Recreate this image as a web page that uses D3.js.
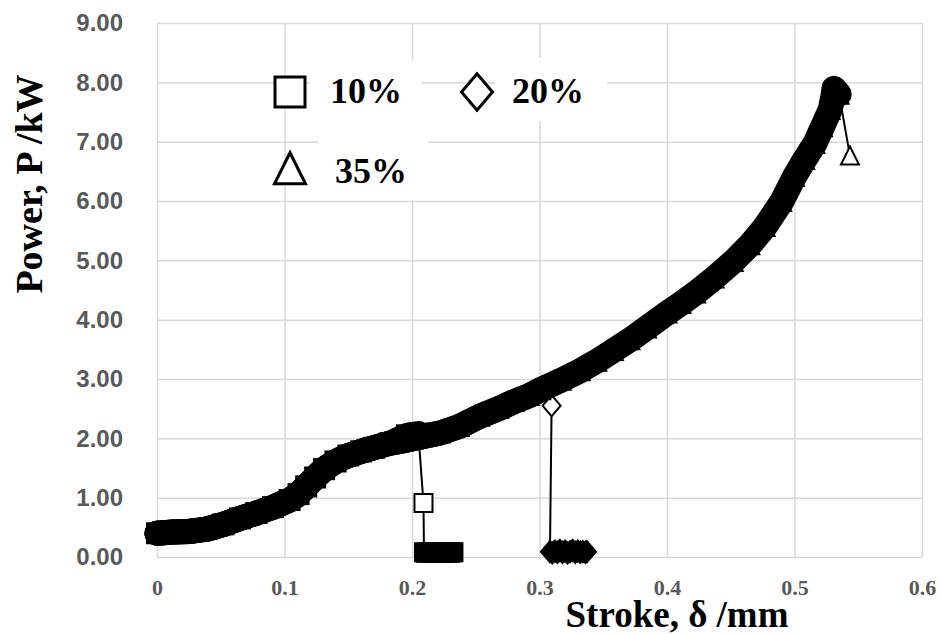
<!DOCTYPE html>
<meta charset="utf-8">
<script src="https://cdnjs.cloudflare.com/ajax/libs/d3/7.8.5/d3.min.js"></script>
<style>
  body { margin: 0; background: #fff; }
</style>
<div id="chart"></div>
<script>
// ---- data ----
// common loading curve (the thick band that all three runs follow)
const curveStroke = [0, 0.0125, 0.025, 0.039, 0.052, 0.065, 0.078, 0.091, 0.104, 0.111,
  0.117, 0.124, 0.131, 0.140, 0.150, 0.160, 0.170, 0.183, 0.196, 0.209, 0.222, 0.237,
  0.253, 0.268, 0.280, 0.292, 0.301, 0.317, 0.332, 0.345, 0.358, 0.371, 0.384, 0.400,
  0.411, 0.4225, 0.437, 0.452, 0.465, 0.477, 0.490, 0.500, 0.508, 0.516, 0.522, 0.528,
  0.530, 0.531, 0.535];
const curvePower = [0.40, 0.42, 0.43, 0.47, 0.55, 0.65, 0.74, 0.84, 0.96, 1.06,
  1.19, 1.34, 1.48, 1.61, 1.71, 1.78, 1.84, 1.92, 1.97, 2.03, 2.09, 2.20,
  2.37, 2.50, 2.62, 2.72, 2.82, 2.98, 3.14, 3.30, 3.48, 3.66, 3.86, 4.11,
  4.27, 4.45, 4.70, 4.98, 5.26, 5.57, 5.99, 6.41, 6.70, 6.97, 7.25, 7.54,
  7.75, 7.90, 7.80];

const seriesNames = ["10%", "20%", "35%"];
// last curve point each run keeps before failure
const curveEnd = [0.183, 0.301, 0.535];

// extra points at the end of the band
const endStroke10 = [0.196, 0.205];
const endPower10 = [2.05, 2.08];
const endStroke20 = [0.305];
const endPower20 = [2.86];
const endStroke35 = [];
const endPower35 = [];

// points after the drop
const tailStroke10 = [0.2090, 0.2094, 0.2108, 0.2122, 0.2138, 0.2155, 0.2172, 0.2190,
  0.2208, 0.2226, 0.2244, 0.2262, 0.2280, 0.2298, 0.2314, 0.2325];
const tailPower10 = [0.91, 0.08, 0.07, 0.08, 0.08, 0.07, 0.08, 0.07,
  0.08, 0.07, 0.08, 0.07, 0.08, 0.07, 0.08, 0.08];
const tailStroke20 = [0.3095, 0.3082, 0.3100, 0.3120, 0.3140, 0.3160, 0.3180, 0.3200,
  0.3220, 0.3240, 0.3260, 0.3280, 0.3300, 0.3320, 0.3340, 0.3360, 0.3372];
const tailPower20 = [2.55, 0.09, 0.07, 0.10, 0.08, 0.11, 0.08, 0.10,
  0.07, 0.09, 0.11, 0.08, 0.10, 0.08, 0.09, 0.08, 0.09];
const tailStroke35 = [0.5435];
const tailPower35 = [6.76];

const xTickValues = [0, 0.1, 0.2, 0.3, 0.4, 0.5, 0.6];
const xTickLabels = ["0", "0.1", "0.2", "0.3", "0.4", "0.5", "0.6"];
const yTickValues = [0, 1, 2, 3, 4, 5, 6, 7, 8, 9];

// ---- layout ----
const W = 941, H = 634;
const plotLeft = 157, plotRight = 922, plotTop = 23, plotBottom = 557;

const svg = d3.select("#chart").append("svg")
  .attr("width", W).attr("height", H);

const x = d3.scaleLinear().domain([0, 0.6]).range([plotLeft, plotRight]);
const y = d3.scaleLinear().domain([0, 9]).range([plotBottom, plotTop]);

// gridlines + tick labels
const yAxis = svg.append("g")
  .attr("transform", "translate(" + plotLeft + ",0)")
  .call(d3.axisLeft(y).tickValues(yTickValues).tickFormat(d3.format(".2f"))
    .tickSize(-(plotRight - plotLeft)).tickPadding(34));
yAxis.select(".domain").remove();
yAxis.selectAll("line").attr("stroke", "#d9d9d9").attr("stroke-width", 1.5);
yAxis.selectAll("text")
  .attr("fill", "#595959")
  .style("font-family", "'Liberation Sans', Arial, sans-serif")
  .style("font-weight", "bold").style("font-size", "24px");

const xAxis = svg.append("g")
  .attr("transform", "translate(0," + plotBottom + ")")
  .call(d3.axisBottom(x).tickValues(xTickValues).tickFormat((d, i) => xTickLabels[i])
    .tickSize(-(plotBottom - plotTop)).tickPadding(22));
xAxis.select(".domain").remove();
xAxis.selectAll("line").attr("stroke", "#d9d9d9").attr("stroke-width", 1.5);
xAxis.selectAll("text")
  .attr("fill", "#595959")
  .style("font-family", "'Liberation Serif', 'Times New Roman', serif")
  .style("font-weight", "bold").style("font-size", "22px");

// axis titles
svg.append("text")
  .attr("x", 677).attr("y", 627)
  .attr("text-anchor", "middle")
  .style("font-family", "'Liberation Serif', 'Times New Roman', serif")
  .style("font-weight", "bold").style("font-size", "37px")
  .text("Stroke, δ /mm");

svg.append("text")
  .attr("transform", "translate(42,184) rotate(-90)")
  .attr("text-anchor", "middle")
  .style("font-family", "'Liberation Serif', 'Times New Roman', serif")
  .style("font-weight", "bold").style("font-size", "38px")
  .text("Power, P /kW");

// marker shapes, w = width of the drawn outline
function marker(shape, cx, cy, w) {
  const p = d3.path();
  const h = w / 2;
  if (shape === "square") {
    p.rect(cx - h, cy - h, w, w);
  } else if (shape === "diamond") {
    p.moveTo(cx, cy - h * 1.18); p.lineTo(cx + h, cy);
    p.lineTo(cx, cy + h * 1.18); p.lineTo(cx - h, cy); p.closePath();
  } else {
    p.moveTo(cx, cy - h * 1.05); p.lineTo(cx + h, cy + h * 0.95);
    p.lineTo(cx - h, cy + h * 0.95); p.closePath();
  }
  return p.toString();
}

const shapes = ["square", "diamond", "triangle"];
const endStroke = [endStroke10, endStroke20, endStroke35];
const endPower = [endPower10, endPower20, endPower35];
const tailStroke = [tailStroke10, tailStroke20, tailStroke35];
const tailPower = [tailPower10, tailPower20, tailPower35];

const line = d3.line().x(d => x(d[0])).y(d => y(d[1]));

seriesNames.forEach(function (name, i) {
  const band = curveStroke.map((s, j) => [s, curvePower[j]])
    .filter(d => d[0] <= curveEnd[i])
    .concat(endStroke[i].map((s, j) => [s, endPower[i][j]]));
  const tail = tailStroke[i].map((s, j) => [s, tailPower[i][j]]);
  const g = svg.append("g").attr("class", "series-" + i);

  // thin connecting line through the drop
  g.append("path")
    .datum([band[band.length - 1]].concat(tail))
    .attr("fill", "none").attr("stroke", "#000").attr("stroke-width", 2)
    .attr("d", line);

  // dense, overlapping markers read as one thick band
  g.append("path")
    .datum(band)
    .attr("fill", "none").attr("stroke", "#000").attr("stroke-width", 25)
    .attr("stroke-linejoin", "round").attr("stroke-linecap", "round")
    .attr("d", line);
  g.selectAll(".bm").data(band).join("path")
    .attr("class", "bm")
    .attr("fill", "#000")
    .attr("d", d => marker(shapes[i], x(d[0]), y(d[1]), 22));

  // tail markers: hollow when isolated, solid where they pile up
  const pts = tail.map(d => [x(d[0]), y(d[1])]);
  g.selectAll(".tm").data(pts).join("path")
    .attr("class", "tm")
    .attr("fill", (d, j) => pts.some((o, k) => k !== j && Math.hypot(o[0] - d[0], o[1] - d[1]) < 8) ? "#000" : "#fff")
    .attr("stroke", "#000").attr("stroke-width", 2)
    .attr("d", d => marker(shapes[i], d[0], d[1], 18));
});

// legend
const legend = [
  { name: seriesNames[0], mx: 290, my: 92, tx: 330, ty: 103, bg: [310, 60, 112, 70] },
  { name: seriesNames[1], mx: 477, my: 92, tx: 512, ty: 103, bg: [495, 58, 112, 63] },
  { name: seriesNames[2], mx: 290, my: 169, tx: 335, ty: 183, bg: [318, 128, 110, 72] }
];
legend.forEach(function (d, i) {
  svg.append("rect")
    .attr("x", d.bg[0]).attr("y", d.bg[1]).attr("width", d.bg[2]).attr("height", d.bg[3])
    .attr("fill", "#fff");
  svg.append("path")
    .attr("d", marker(shapes[i], d.mx, d.my, i === 0 ? 30 : 31))
    .attr("fill", "#fff").attr("stroke", "#000").attr("stroke-width", 3);
  svg.append("text")
    .attr("x", d.tx).attr("y", d.ty)
    .style("font-family", "'Liberation Serif', 'Times New Roman', serif")
    .style("font-weight", "bold").style("font-size", "36px")
    .text(d.name);
});
</script>
